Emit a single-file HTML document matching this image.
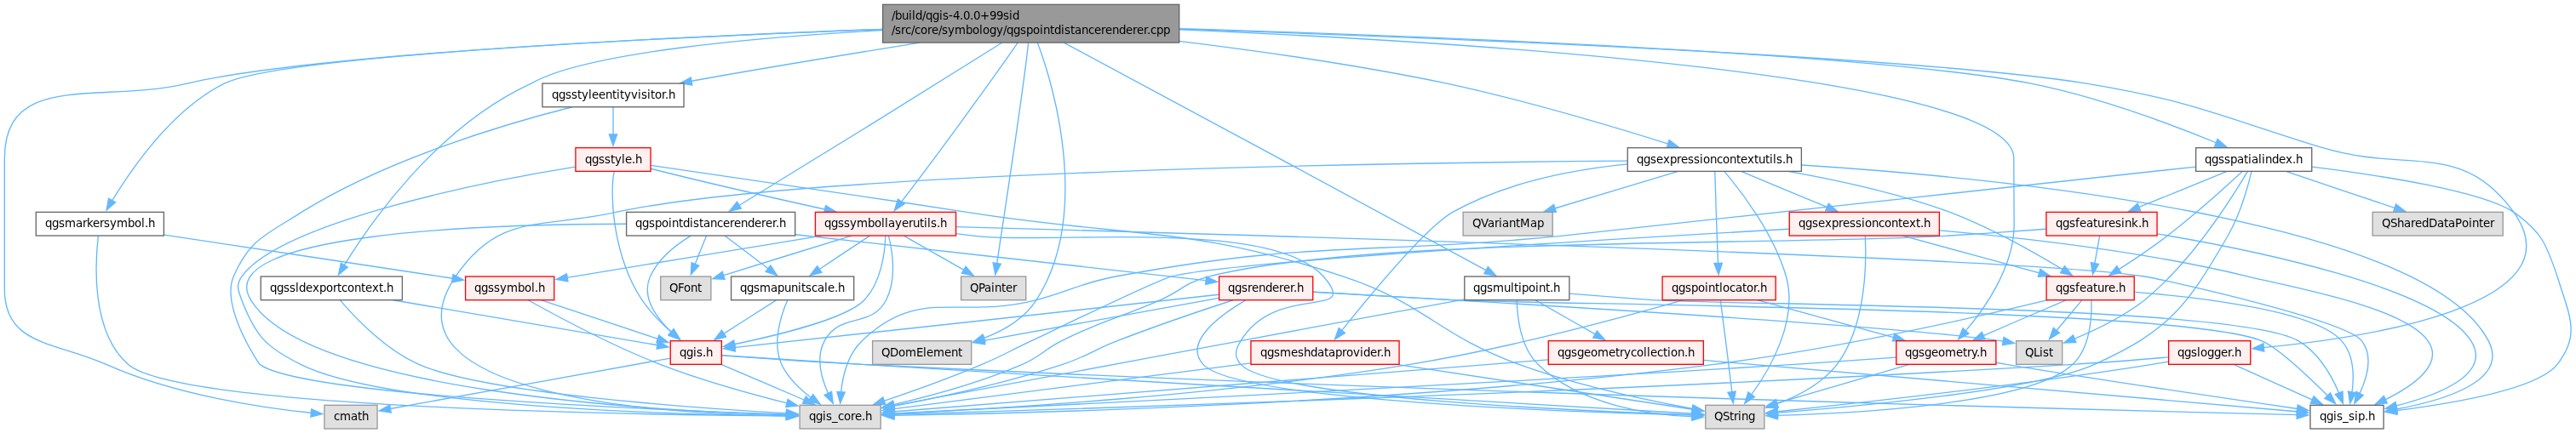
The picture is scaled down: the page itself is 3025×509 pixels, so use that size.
<!DOCTYPE html>
<html><head><meta charset="utf-8"><title>qgspointdistancerenderer.cpp include graph</title>
<style>
html,body{margin:0;padding:0;background:#fff;overflow:hidden;}
svg{display:block;will-change:transform;}
.e path{fill:none;stroke:#63b8ff;stroke-width:1.333;}
.e polygon{fill:#63b8ff;stroke:#63b8ff;stroke-width:1.333;}
rect{stroke-width:1.333;}
rect.root{fill:#999999;stroke:#666666;}
rect.red{fill:#fff0f0;stroke:#ff0000;}
rect.grey{fill:#e0e0e0;stroke:#999999;}
rect.wh{fill:#ffffff;stroke:#666666;}

text{font-family:"DejaVu Sans","Liberation Sans",sans-serif;font-size:13.333px;fill:#000;text-anchor:start;font-kerning:none;}
</style></head>
<body>
<svg width="3025" height="509" viewBox="0 0 3025 509">
<rect x="0" y="0" width="3025" height="509" fill="#ffffff" stroke="none"/>
<g class="e">
<path d="M1176.56,50.23 C1106.39,94.74 938.04,199.10 866.66,242.22"/>
<polygon points="870.42,245.20 856.62,248.21 865.52,237.25"/>
<path d="M1036.40,34.33 C796.48,43.20 370.50,63.05 219.73,98.08 119.49,122.23 5.33,82.63 5.33,186.50 5.33,186.50 5.33,186.50 5.33,339.97 5.33,406.34 64.60,401.49 124.80,428.34 206.01,464.65 309.62,479.56 367.38,485.52"/>
<polygon points="365.76,480.74 378.61,486.61 364.90,490.04"/>
<path d="M1218.33,50.17 C1239.38,104.87 1280.29,254.56 1217.03,352.69 1202.89,374.95 1178.16,389.15 1153.68,398.16"/>
<polygon points="1157.05,401.91 1142.93,401.74 1154.08,393.06"/>
<path d="M1384.77,48.32 C1479.43,59.96 1596.23,76.67 1699.14,98.08 1792.60,118.31 1898.74,150.19 1960.57,169.59"/>
<polygon points="1960.11,164.58 1971.44,173.03 1957.31,173.47"/>
<path d="M1384.89,34.94 C1709.12,48.69 2366.60,88.06 2364.80,186.50 2364.80,186.50 2364.80,186.50 2365.17,264.32 2365.12,313.73 2330.63,362.99 2307.13,390.42"/>
<polygon points="2311.94,392.15 2299.56,398.96 2304.99,385.91"/>
<path d="M1384.98,34.20 C1677.77,43.98 2250.35,66.28 2449.97,98.08 2577.09,119.11 2606.20,136.45 2727.52,173.73 2827.73,204.00 2890.59,164.40 2951.85,249.38 3030.40,359.20 2778.74,396.96 2656.51,408.70"/>
<polygon points="2658.79,413.15 2645.09,409.75 2657.92,403.86"/>
<path d="M1036.33,34.48 C783.53,43.91 331.02,64.83 263.47,98.08 201.22,129.72 153.71,199.85 130.95,237.20"/>
<polygon points="135.71,237.83 125.06,247.11 127.61,233.21"/>
<path d="M1249.27,50.08 C1356.83,106.99 1645.73,264.22 1746.77,318.64"/>
<polygon points="1747.27,313.56 1756.79,324.00 1742.84,321.77"/>
<path d="M1036.33,35.57 C888.17,43.89 687.10,61.53 623.84,98.08 512.55,149.02 434.14,262.93 403.47,313.18"/>
<polygon points="408.37,314.09 397.49,323.10 400.38,309.27"/>
<path d="M1384.91,33.56 C1665.30,42.12 2198.66,62.45 2384.82,98.08 2465.04,114.03 2553.72,147.73 2604.34,168.50"/>
<polygon points="2604.11,163.46 2614.69,172.84 2600.58,172.10"/>
<path d="M1080.37,50.10 C992.01,64.45 878.72,83.15 808.83,95.88"/>
<polygon points="812.79,100.20 798.89,97.70 811.32,90.98"/>
<path d="M1195.21,50.23 C1165.57,93.45 1092.65,193.17 1057.68,238.32"/>
<polygon points="1062.01,239.66 1050.34,247.62 1054.49,234.12"/>
<path d="M1207.59,50.33 C1202.13,104.99 1179.29,251.03 1170.46,311.41"/>
<polygon points="1175.35,310.27 1168.80,322.78 1166.12,308.91"/>
<path d="M811.16,277.11 C794.40,287.43 773.12,303.84 763.53,325.03 752.72,349.22 771.16,374.05 789.27,391.23"/>
<polygon points="791.06,386.76 798.03,399.03 784.93,393.78"/>
<path d="M735.37,263.24 C568.52,263.53 246.48,274.42 294.53,352.69 359.78,460.25 768.28,482.95 925.23,487.79"/>
<polygon points="923.42,483.09 936.63,488.12 923.16,492.42"/>
<path d="M851.02,277.08 C865.37,287.92 886.55,303.91 903.43,316.70"/>
<polygon points="904.79,311.90 912.62,323.67 899.17,319.35"/>
<path d="M933.88,275.75 C1066.50,290.66 1302.10,316.76 1417.97,329.83"/>
<polygon points="1416.69,325.05 1429.42,331.16 1415.66,334.32"/>
<path d="M829.58,277.08 C825.74,286.71 820.28,300.42 815.51,312.33"/>
<polygon points="820.75,312.20 811.36,322.75 812.12,308.65"/>
<path d="M787.13,421.05 C717.00,433.81 540.58,465.61 456.85,480.72"/>
<polygon points="459.33,485.10 445.37,482.86 457.67,475.92"/>
<path d="M846.74,428.44 C874.63,440.26 915.90,457.88 946.36,471.00"/>
<polygon points="946.30,465.89 956.68,475.48 942.59,474.46"/>
<path d="M847.58,417.88 C886.07,420.70 954.00,425.44 1012.26,428.34 1675.87,461.61 2480.77,482.28 2699.15,487.68"/>
<polygon points="2697.35,482.98 2710.57,487.96 2697.13,492.32"/>
<path d="M847.59,417.65 C886.10,420.23 954.04,424.74 1012.26,428.34 1389.35,451.77 1842.61,477.60 1988.92,486.21"/>
<polygon points="1987.34,481.49 2000.38,486.90 1986.80,490.80"/>
<path d="M911.47,352.82 C894.31,363.86 868.78,380.23 848.56,393.17"/>
<polygon points="852.65,396.07 838.91,399.39 847.58,388.23"/>
<path d="M924.68,352.98 C917.12,370.61 906.37,403.36 917.74,428.34 925.53,444.66 940.06,458.34 953.72,468.51"/>
<polygon points="954.81,463.57 963.09,475.01 949.47,471.23"/>
<path d="M1431.33,346.23 C1301.48,360.65 979.40,395.81 861.05,408.65"/>
<polygon points="863.51,413.06 849.75,409.87 862.50,403.79"/>
<path d="M1448.05,352.75 C1412.57,364.38 1358.24,382.67 1312.00,400.68 1283.10,411.87 1277.44,418.67 1247.87,428.34 1180.92,450.30 1101.79,467.35 1047.91,477.67"/>
<polygon points="1050.47,482.00 1036.50,479.90 1048.73,472.83"/>
<path d="M1541.88,343.24 C1586.69,345.86 1651.37,349.59 1707.94,352.69 1813.08,358.30 2558.96,360.68 2655.69,400.68 2673.65,407.90 2710.87,442.84 2734.59,466.45"/>
<polygon points="2736.55,461.79 2742.57,474.57 2729.89,468.33"/>
<path d="M1462.86,352.89 C1433.31,370.15 1388.83,402.16 1412.92,428.34 1451.03,470.87 1849.42,484.50 1988.94,488.01"/>
<polygon points="1987.05,483.31 2000.26,488.30 1986.82,492.65"/>
<path d="M1431.32,350.34 C1359.39,363.45 1233.63,386.23 1154.08,400.55"/>
<polygon points="1156.74,404.78 1142.79,402.56 1155.08,395.60"/>
<path d="M1541.96,343.12 C1714.94,353.01 2233.15,382.74 2354.96,401.38"/>
<polygon points="2353.02,396.43 2365.37,403.29 2351.43,405.63"/>
<path d="M1911.25,189.15 C1647.88,191.19 950.84,201.10 723.54,249.38 636.35,269.07 586.55,249.11 534.94,325.03 439.35,466.22 781.83,486.63 925.72,489.04"/>
<polygon points="923.62,484.35 936.89,489.19 923.50,493.68"/>
<path d="M2115.63,193.96 C2336.00,208.16 2846.95,256.36 2922.17,400.68 2946.95,447.86 2869.80,470.76 2812.63,481.25"/>
<polygon points="2815.34,485.61 2801.41,483.23 2813.78,476.40"/>
<path d="M2025.00,201.59 C2044.45,224.39 2083.17,274.89 2097.45,325.03 2111.77,376.47 2078.85,433.79 2055.87,465.11"/>
<polygon points="2060.41,466.48 2048.74,474.44 2052.90,460.94"/>
<path d="M2044.45,201.49 C2073.06,213.37 2115.76,231.09 2147.35,244.23"/>
<polygon points="2147.27,239.13 2157.80,248.56 2143.69,247.76"/>
<path d="M2099.50,201.41 C2154.68,211.15 2227.45,226.75 2289.63,249.38 2338.44,267.93 2390.99,297.93 2423.38,317.55"/>
<polygon points="2424.46,312.73 2433.38,323.69 2419.58,320.69"/>
<path d="M1911.20,192.93 C1848.44,199.28 1768.39,214.34 1705.82,249.38 1674.02,267.76 1607.23,349.13 1574.62,389.81"/>
<polygon points="1579.45,391.46 1567.46,398.94 1572.18,385.61"/>
<path d="M2013.80,201.70 C2014.48,225.97 2016.20,279.32 2017.61,311.10"/>
<polygon points="2022.32,309.26 2018.14,322.75 2013.00,309.59"/>
<path d="M1970.80,201.40 C1929.97,213.66 1868.20,232.21 1824.01,245.49"/>
<polygon points="1827.39,249.35 1813.28,248.73 1824.69,240.41"/>
<path d="M2100.92,269.28 C1904.35,280.45 1444.48,307.47 1375.42,325.03 1355.93,330.19 1229.45,392.18 1211.26,400.68 1185.27,412.69 1179.55,417.35 1153.11,428.34 1114.72,444.53 1070.03,460.51 1036.35,471.95"/>
<polygon points="1039.86,475.70 1025.74,475.58 1036.86,466.86"/>
<path d="M2277.73,270.87 C2369.20,278.92 2515.56,295.05 2640.09,325.03 2688.59,337.10 2822.78,360.20 2851.03,400.68 2870.77,428.28 2833.31,454.04 2799.79,470.44"/>
<polygon points="2803.31,473.91 2789.26,475.36 2799.34,465.46"/>
<path d="M2190.33,277.24 C2191.74,306.58 2192.19,382.03 2157.20,428.34 2139.34,451.34 2110.19,466.25 2084.98,475.48"/>
<polygon points="2088.07,479.44 2073.93,479.37 2085.02,470.62"/>
<path d="M2234.42,277.08 C2279.03,289.29 2347.68,308.07 2396.63,321.41"/>
<polygon points="2395.88,316.36 2407.51,324.38 2393.42,325.37"/>
<path d="M2404.87,352.72 C2323.26,372.25 2156.64,409.97 2012.70,428.34 1649.79,474.94 1209.75,485.90 1048.38,488.36"/>
<polygon points="1049.98,493.01 1036.59,488.53 1049.84,483.67"/>
<path d="M2506.40,343.31 C2582.38,349.43 2718.73,364.90 2749.68,400.68 2764.54,417.32 2764.55,443.31 2761.76,462.73"/>
<polygon points="2766.62,461.67 2759.68,473.97 2757.44,460.02"/>
<path d="M2455.94,352.72 C2456.55,371.89 2454.85,408.71 2433.95,428.34 2385.57,474.85 2180.84,485.81 2085.50,488.31"/>
<polygon points="2087.53,492.95 2074.09,488.59 2087.32,483.61"/>
<path d="M2444.74,352.82 C2436.33,362.92 2424.20,377.46 2413.95,389.79"/>
<polygon points="2418.52,391.17 2406.53,398.65 2411.25,385.33"/>
<path d="M2425.99,352.82 C2398.65,364.46 2357.69,382.04 2327.47,395.27"/>
<polygon points="2331.07,398.84 2316.98,399.83 2327.38,390.26"/>
<path d="M2226.49,420.06 C2191.68,422.64 2146.80,425.85 2106.89,428.34 1703.62,453.68 1218.13,477.60 1047.89,486.02"/>
<polygon points="1049.87,490.62 1036.32,486.60 1049.42,481.29"/>
<path d="M2344.08,426.22 C2348.11,426.96 2352.12,427.67 2356.00,428.34 2477.69,448.49 2621.97,469.48 2699.65,480.74"/>
<polygon points="2698.25,475.90 2710.79,482.41 2696.93,485.15"/>
<path d="M2242.21,428.35 C2198.50,441.24 2130.85,461.09 2085.12,474.44"/>
<polygon points="2088.14,478.44 2074.03,477.76 2085.48,469.49"/>
<path d="M1468.67,426.84 C1351.49,441.77 1149.74,467.70 1047.73,480.87"/>
<polygon points="1050.20,485.29 1036.37,482.37 1049.00,476.03"/>
<path d="M1640.32,428.35 C1741.79,443.73 1908.50,468.98 1989.53,481.52"/>
<polygon points="1988.14,476.68 2000.63,483.30 1986.76,485.91"/>
<path d="M1976.99,352.69 C1909.76,371.91 1773.44,408.89 1655.84,428.34 1434.43,464.95 1167.78,480.74 1048.16,486.44"/>
<polygon points="1049.94,491.05 1036.40,486.99 1049.51,481.73"/>
<path d="M2020.39,353.06 C2023.39,377.24 2030.36,430.42 2034.08,462.52"/>
<polygon points="2038.16,460.06 2035.33,473.91 2028.91,461.33"/>
<path d="M2063.53,352.73 C2107.85,364.91 2176.20,383.64 2225.50,397.08"/>
<polygon points="2224.85,392.05 2236.48,400.07 2222.38,401.04"/>
<path d="M2546.36,419.87 C2514.50,422.61 2471.75,426.05 2433.95,428.34 1898.55,460.81 1249.08,481.24 1047.87,487.26"/>
<polygon points="1049.93,491.88 1036.47,487.60 1049.66,482.54"/>
<path d="M2622.94,428.44 C2649.06,440.16 2687.87,457.57 2716.77,470.65"/>
<polygon points="2717.10,465.67 2727.29,475.45 2713.22,474.16"/>
<path d="M2546.59,425.10 C2540.18,426.25 2533.67,427.37 2527.48,428.34 2367.24,453.59 2174.83,474.60 2085.76,484.00"/>
<polygon points="2087.97,488.50 2074.23,485.22 2087.02,479.22"/>
<path d="M115.33,277.37 C111.85,308.34 106.42,389.51 150.40,428.34 208.15,479.53 742.49,487.63 925.56,488.84"/>
<polygon points="923.45,484.17 936.75,488.92 923.40,493.51"/>
<path d="M192.89,276.15 C287.47,290.29 445.14,314.05 533.33,327.49"/>
<polygon points="532.04,322.66 544.52,329.26 530.64,331.89"/>
<path d="M635.80,352.82 C674.34,365.58 733.98,385.46 774.16,398.95"/>
<polygon points="773.80,393.96 784.98,402.60 770.85,402.81"/>
<path d="M620.08,352.72 C653.09,371.09 717.80,405.89 775.16,428.34 824.71,447.46 883.05,463.55 925.90,474.29"/>
<polygon points="925.04,469.32 936.86,477.05 922.80,478.38"/>
<path d="M1719.77,351.85 C1653.85,363.98 1547.83,383.62 1457.09,400.68 1310.02,427.89 1137.96,460.18 1047.70,477.06"/>
<polygon points="1050.45,481.35 1036.48,479.24 1048.72,472.18"/>
<path d="M1842.90,345.13 C1872.27,347.53 1907.87,350.36 1939.85,352.69 2024.12,358.61 2626.58,357.79 2698.91,400.68 2722.99,414.62 2738.68,442.94 2747.38,463.69"/>
<polygon points="2751.03,460.21 2751.42,474.34 2742.30,463.54"/>
<path d="M1781.29,352.86 C1781.59,371.89 1785.17,408.11 1806.02,428.34 1855.20,476.23 1937.02,487.84 1988.90,489.82"/>
<polygon points="1987.05,485.12 2000.27,490.09 1986.83,494.45"/>
<path d="M1803.12,352.82 C1822.73,364.07 1852.04,380.84 1874.90,393.91"/>
<polygon points="1875.36,388.87 1884.67,399.50 1870.76,396.99"/>
<path d="M1817.91,422.84 C1795.23,424.64 1770.98,426.56 1748.51,428.34 1489.02,448.95 1178.49,473.49 1047.86,484.01"/>
<polygon points="1050.03,488.54 1036.37,484.94 1049.29,479.24"/>
<path d="M2000.64,423.45 C2176.62,438.57 2555.56,471.30 2699.39,483.98"/>
<polygon points="2697.95,479.21 2710.84,485.01 2697.15,488.51"/>
<path d="M461.65,352.73 C551.04,367.97 700.88,393.46 773.94,406.00"/>
<polygon points="772.65,401.08 785.01,407.90 771.08,410.27"/>
<path d="M399.42,352.94 C416.22,372.76 452.05,410.88 491.73,428.34 568.29,462.10 811.11,479.31 925.60,485.91"/>
<polygon points="923.74,481.18 936.81,486.55 923.24,490.50"/>
<path d="M2578.48,196.05 C2396.11,215.83 1908.73,269.48 1835.52,277.04 1602.86,300.27 1541.12,281.84 1310.14,325.03 1267.83,333.24 1258.70,341.46 1217.03,352.69 1126.34,376.27 1079.63,335.75 1012.26,400.68 995.31,416.61 989.35,442.91 987.40,462.60"/>
<polygon points="992.23,461.01 986.71,474.00 982.92,460.39"/>
<path d="M2714.82,196.15 C2792.41,205.73 2913.96,224.14 2951.85,249.38 2984.65,272.39 2990.13,286.80 3003.09,325.03 3016.43,369.56 3031.37,392.59 3003.01,428.34 2979.46,457.55 2877.44,474.53 2812.43,482.88"/>
<polygon points="2815.03,487.32 2801.23,484.29 2813.91,478.06"/>
<path d="M2644.01,201.44 C2639.84,219.12 2630.76,251.64 2616.28,277.04 2567.56,361.00 2547.25,388.77 2459.46,428.34 2394.30,458.22 2182.37,477.70 2085.39,485.46"/>
<polygon points="2087.71,489.99 2074.05,486.35 2086.99,480.69"/>
<path d="M2639.31,201.59 C2621.51,231.44 2574.55,306.72 2518.48,352.69 2492.88,372.64 2459.86,388.41 2434.30,398.89"/>
<polygon points="2437.85,402.47 2423.74,403.08 2434.40,393.80"/>
<path d="M2632.94,201.68 C2613.89,219.35 2578.01,251.54 2545.41,277.04 2526.52,291.54 2504.35,306.37 2486.64,317.67"/>
<polygon points="2490.75,320.69 2476.97,323.78 2485.81,312.77"/>
<path d="M2615.33,201.49 C2586.22,213.37 2542.44,231.09 2510.21,244.23"/>
<polygon points="2513.74,247.83 2499.64,248.57 2510.20,239.20"/>
<path d="M2684.39,201.49 C2720.01,213.58 2774.20,231.72 2813.56,244.92"/>
<polygon points="2813.64,239.97 2824.76,248.69 2810.64,248.81"/>
<path d="M2402.60,269.22 C2368.83,271.67 2327.04,274.64 2289.63,277.04 2096.40,288.97 1607.32,277.55 1419.30,325.03 1392.28,332.10 1388.07,341.04 1362.58,352.69 1311.65,375.29 1296.39,375.48 1246.79,400.68 1225.33,411.39 1222.55,418.88 1200.49,428.34 1151.14,449.74 1091.86,465.74 1047.94,475.84"/>
<polygon points="1050.60,480.08 1036.57,478.49 1048.53,470.98"/>
<path d="M2533.43,274.86 C2645.07,293.60 2862.09,337.69 2901.69,400.68 2926.72,440.08 2863.23,464.55 2812.35,477.40"/>
<polygon points="2815.25,481.62 2801.19,480.20 2813.06,472.54"/>
<path d="M2465.66,277.08 C2463.98,286.50 2461.57,299.83 2459.44,311.55"/>
<polygon points="2464.54,310.40 2457.46,322.63 2455.38,308.65"/>
<path d="M671.85,125.76 C595.54,145.05 454.06,186.80 354.13,249.38 312.91,276.17 293.34,280.43 274.24,325.03 258.93,361.17 303.94,427.51 305.07,428.34 353.90,464.76 767.47,481.81 925.50,487.17"/>
<polygon points="923.80,482.46 936.98,487.56 923.50,491.79"/>
<path d="M720.00,125.87 C720.00,135.15 720.00,148.17 720.00,159.78"/>
<polygon points="724.67,157.90 720.00,171.24 715.34,157.90"/>
<path d="M721.24,201.49 C715.34,230.46 720.77,303.02 753.96,352.69 763.92,367.41 777.90,381.27 790.18,392.03"/>
<polygon points="791.45,387.17 798.72,399.28 785.48,394.34"/>
<path d="M675.64,196.15 C564.35,213.91 329.24,262.13 283.85,325.03 276.85,334.97 279.56,341.23 283.85,352.69 300.28,395.22 312.21,408.05 353.07,428.34 451.94,477.95 786.61,487.16 925.37,488.75"/>
<polygon points="923.55,484.08 936.84,488.88 923.46,493.41"/>
<path d="M764.19,194.46 C833.05,204.85 995.01,227.51 1135.05,249.38 1333.24,280.84 1388.77,263.07 1577.76,325.03 1675.70,357.66 1687.80,393.67 1783.66,428.34 1853.44,453.61 1937.60,471.18 1989.16,480.73"/>
<polygon points="1988.10,475.92 2000.42,482.84 1986.48,485.11"/>
<path d="M764.06,198.23 C812.52,210.52 904.80,231.96 970.48,246.48"/>
<polygon points="969.55,241.53 981.59,248.93 967.57,250.65"/>
<path d="M1039.86,277.25 C1039.21,295.98 1035.11,331.56 1014.99,352.69 993.63,374.48 912.60,394.25 860.93,404.99"/>
<polygon points="863.60,409.19 849.59,407.29 861.72,400.04"/>
<path d="M1043.46,277.18 C1047.91,294.88 1053.39,328.01 1040.60,352.69 1022.68,386.73 986.43,366.64 968.22,400.68 957.51,420.41 964.83,445.78 973.22,464.18"/>
<polygon points="976.53,460.27 978.28,474.30 968.17,464.42"/>
<path d="M1122.68,266.60 C1415.83,274.78 2381.43,302.47 2518.48,325.03 2547.58,330.00 2756.02,377.06 2773.43,400.68 2787.29,418.95 2779.36,445.23 2770.14,464.31"/>
<polygon points="2775.16,464.66 2764.83,474.31 2766.88,460.33"/>
<path d="M1122.60,274.62 C1129.39,275.44 1136.14,276.25 1142.66,277.04 1235.17,287.82 1493.22,255.81 1554.10,325.03 1599.55,376.55 1498.43,331.57 1457.09,400.68 1450.50,411.11 1448.75,419.21 1457.09,428.34 1491.75,467.76 1856.85,483.21 1989.25,487.64"/>
<polygon points="1987.47,482.93 2000.65,488.01 1987.18,492.26"/>
<path d="M1021.39,277.08 C1004.80,288.12 980.14,304.53 960.71,317.44"/>
<polygon points="964.86,320.32 951.16,323.78 959.72,312.53"/>
<path d="M1000.06,277.08 C957.60,290.20 890.68,310.89 847.44,324.27"/>
<polygon points="851.04,328.31 836.92,327.77 848.29,319.38"/>
<path d="M965.00,277.08 C880.92,290.95 744.70,313.27 664.37,326.55"/>
<polygon points="666.96,330.94 653.05,328.49 665.46,321.72"/>
<path d="M1061.33,277.08 C1080.99,288.33 1110.40,305.15 1133.20,318.16"/>
<polygon points="1134.06,313.19 1143.28,323.89 1129.40,321.27"/>
</g>
<g class="n">
<rect class="root" x="1036.61" y="5.33" width="348.12" height="44.75"/>
<rect class="wh" x="636.94" y="98.08" width="166.12" height="27.66"/>
<rect class="red" x="675.94" y="173.73" width="88.12" height="27.66"/>
<rect class="wh" x="1911.27" y="173.73" width="204.12" height="27.66"/>
<rect class="wh" x="2578.61" y="173.73" width="136.12" height="27.66"/>
<rect class="wh" x="42.27" y="249.38" width="150.12" height="27.66"/>
<rect class="wh" x="735.61" y="249.38" width="198.12" height="27.66"/>
<rect class="red" x="957.44" y="249.38" width="165.12" height="27.66"/>
<rect class="grey" x="1718.11" y="249.38" width="105.12" height="27.66"/>
<rect class="red" x="2101.27" y="249.38" width="176.12" height="27.66"/>
<rect class="red" x="2402.94" y="249.38" width="130.12" height="27.66"/>
<rect class="grey" x="2786.11" y="249.38" width="153.12" height="27.66"/>
<rect class="wh" x="306.27" y="325.03" width="166.12" height="27.66"/>
<rect class="red" x="546.61" y="325.03" width="104.12" height="27.66"/>
<rect class="grey" x="775.77" y="325.03" width="59.12" height="27.66"/>
<rect class="wh" x="858.61" y="325.03" width="144.12" height="27.66"/>
<rect class="grey" x="1128.61" y="325.03" width="76.12" height="27.66"/>
<rect class="red" x="1431.61" y="325.03" width="110.12" height="27.66"/>
<rect class="wh" x="1719.77" y="325.03" width="123.12" height="27.66"/>
<rect class="red" x="1952.11" y="325.03" width="133.12" height="27.66"/>
<rect class="red" x="2403.11" y="325.03" width="103.12" height="27.66"/>
<rect class="red" x="787.27" y="400.68" width="60.12" height="27.66"/>
<rect class="grey" x="1024.61" y="400.68" width="116.12" height="27.66"/>
<rect class="red" x="1468.94" y="400.68" width="174.12" height="27.66"/>
<rect class="red" x="1818.27" y="400.68" width="182.12" height="27.66"/>
<rect class="red" x="2226.77" y="400.68" width="117.12" height="27.66"/>
<rect class="grey" x="2367.61" y="400.68" width="54.12" height="27.66"/>
<rect class="red" x="2546.61" y="400.68" width="96.12" height="27.66"/>
<rect class="grey" x="380.94" y="476.33" width="62.12" height="27.66"/>
<rect class="grey" x="939.11" y="476.33" width="95.12" height="27.66"/>
<rect class="grey" x="2002.77" y="476.33" width="69.12" height="27.66"/>
<rect class="wh" x="2712.94" y="476.33" width="86.12" height="27.66"/>
</g>
<g class="t">
<text x="1047.0 1051.0 1059.0 1067.0 1071.0 1075.0 1083.0 1087.0 1095.0 1103.0 1107.0 1114.0 1119.0 1127.0 1131.0 1139.0 1143.0 1151.0 1162.0 1170.0 1178.0 1185.0 1189.0" y="23.4">/build/qgis-4.0.0+99sid</text>
<text x="1047.0 1051.0 1058.0 1063.0 1070.0 1074.0 1081.0 1089.0 1094.0 1102.0 1106.0 1113.0 1121.0 1134.0 1142.0 1150.0 1154.0 1162.0 1170.0 1178.0 1182.0 1190.0 1198.0 1205.0 1213.0 1221.0 1225.0 1233.0 1238.0 1246.0 1250.0 1257.0 1262.0 1270.0 1278.0 1285.0 1293.0 1298.0 1306.0 1314.0 1322.0 1330.0 1335.0 1343.0 1347.0 1351.0 1358.0 1366.0" y="40.4">/src/core/symbology/qgspointdistancerenderer.cpp</text>
<text x="648.0 656.0 664.0 671.0 678.0 683.0 691.0 695.0 703.0 711.0 719.0 724.0 728.0 733.0 741.0 749.0 753.0 760.0 764.0 769.0 777.0 781.0 785.0" y="116.0">qgsstyleentityvisitor.h</text>
<text x="687.0 695.0 703.0 710.0 717.0 722.0 730.0 734.0 742.0 746.0" y="191.9">qgsstyle.h</text>
<text x="1922.0 1930.0 1938.0 1945.0 1953.0 1961.0 1969.0 1974.0 1982.0 1989.0 1996.0 2000.0 2008.0 2016.0 2023.0 2031.0 2039.0 2044.0 2052.0 2060.0 2065.0 2073.0 2078.0 2082.0 2086.0 2093.0 2097.0" y="191.9">qgsexpressioncontextutils.h</text>
<text x="2589.0 2597.0 2605.0 2612.0 2619.0 2627.0 2635.0 2640.0 2644.0 2652.0 2656.0 2660.0 2668.0 2676.0 2684.0 2692.0 2696.0" y="191.9">qgsspatialindex.h</text>
<text x="53.0 61.0 69.0 76.0 89.0 97.0 102.0 109.0 117.0 122.0 129.0 137.0 150.0 158.0 166.0 170.0 174.0" y="266.9">qgsmarkersymbol.h</text>
<text x="746.0 754.0 762.0 769.0 777.0 785.0 789.0 797.0 802.0 810.0 814.0 821.0 826.0 834.0 842.0 849.0 857.0 862.0 870.0 878.0 886.0 894.0 899.0 907.0 911.0 915.0" y="266.9">qgspointdistancerenderer.h</text>
<text x="968.0 976.0 984.0 991.0 998.0 1006.0 1019.0 1027.0 1035.0 1039.0 1043.0 1051.0 1059.0 1067.0 1072.0 1080.0 1085.0 1089.0 1093.0 1100.0 1104.0" y="266.9">qgssymbollayerutils.h</text>
<text x="1729.0 1739.0 1747.0 1755.0 1760.0 1764.0 1772.0 1780.0 1785.0 1797.0 1805.0" y="266.9">QVariantMap</text>
<text x="2112.0 2120.0 2128.0 2135.0 2143.0 2151.0 2159.0 2164.0 2172.0 2179.0 2186.0 2190.0 2198.0 2206.0 2213.0 2221.0 2229.0 2234.0 2242.0 2250.0 2255.0 2259.0" y="266.9">qgsexpressioncontext.h</text>
<text x="2414.0 2422.0 2430.0 2437.0 2442.0 2450.0 2458.0 2463.0 2471.0 2476.0 2484.0 2491.0 2495.0 2503.0 2511.0 2515.0" y="266.9">qgsfeaturesink.h</text>
<text x="2797.0 2807.0 2815.0 2823.0 2831.0 2836.0 2844.0 2852.0 2862.0 2870.0 2875.0 2883.0 2891.0 2899.0 2903.0 2911.0 2916.0 2924.0" y="266.9">QSharedDataPointer</text>
<text x="317.0 325.0 333.0 340.0 347.0 351.0 359.0 367.0 375.0 383.0 391.0 396.0 401.0 408.0 416.0 424.0 429.0 437.0 445.0 450.0 454.0" y="342.9">qgssldexportcontext.h</text>
<text x="557.0 565.0 573.0 580.0 587.0 595.0 608.0 616.0 624.0 628.0 632.0" y="342.9">qgssymbol.h</text>
<text x="786.0 796.0 803.0 811.0 819.0" y="342.9">QFont</text>
<text x="869.0 877.0 885.0 892.0 905.0 913.0 921.0 929.0 937.0 941.0 946.0 953.0 960.0 968.0 972.0 980.0 984.0" y="342.9">qgsmapunitscale.h</text>
<text x="1139.0 1149.0 1156.0 1164.0 1168.0 1176.0 1181.0 1189.0" y="342.9">QPainter</text>
<text x="1442.0 1450.0 1458.0 1465.0 1470.0 1478.0 1486.0 1494.0 1502.0 1507.0 1515.0 1519.0 1523.0" y="342.9">qgsrenderer.h</text>
<text x="1730.0 1738.0 1746.0 1753.0 1766.0 1774.0 1778.0 1783.0 1787.0 1795.0 1803.0 1807.0 1815.0 1820.0 1824.0" y="342.9">qgsmultipoint.h</text>
<text x="1963.0 1971.0 1979.0 1986.0 1994.0 2002.0 2006.0 2014.0 2019.0 2023.0 2031.0 2038.0 2046.0 2051.0 2059.0 2063.0 2067.0" y="342.9">qgspointlocator.h</text>
<text x="2414.0 2422.0 2430.0 2437.0 2442.0 2450.0 2458.0 2463.0 2471.0 2476.0 2484.0 2488.0" y="342.9">qgsfeature.h</text>
<text x="798.0 806.0 814.0 818.0 825.0 829.0" y="418.9">qgis.h</text>
<text x="1035.0 1045.0 1055.0 1063.0 1076.0 1084.0 1088.0 1096.0 1109.0 1117.0 1125.0" y="418.9">QDomElement</text>
<text x="1480.0 1488.0 1496.0 1503.0 1516.0 1524.0 1531.0 1539.0 1547.0 1555.0 1560.0 1568.0 1576.0 1581.0 1589.0 1597.0 1601.0 1609.0 1617.0 1621.0 1625.0" y="418.9">qgsmeshdataprovider.h</text>
<text x="1829.0 1837.0 1845.0 1852.0 1860.0 1868.0 1876.0 1889.0 1897.0 1902.0 1907.0 1915.0 1922.0 1930.0 1934.0 1938.0 1946.0 1953.0 1958.0 1962.0 1970.0 1978.0 1982.0" y="418.9">qgsgeometrycollection.h</text>
<text x="2237.0 2245.0 2253.0 2260.0 2268.0 2276.0 2284.0 2297.0 2305.0 2310.0 2315.0 2321.0 2325.0" y="418.9">qgsgeometry.h</text>
<text x="2378.0 2388.0 2395.0 2399.0 2406.0" y="418.9">QList</text>
<text x="2557.0 2565.0 2573.0 2580.0 2584.0 2592.0 2600.0 2608.0 2616.0 2620.0 2624.0" y="418.9">qgslogger.h</text>
<text x="392.0 399.0 412.0 420.0 425.0" y="493.9">cmath</text>
<text x="950.0 958.0 966.0 970.0 977.0 984.0 991.0 999.0 1004.0 1012.0 1016.0" y="493.9">qgis_core.h</text>
<text x="2013.0 2023.0 2031.0 2036.0 2041.0 2045.0 2053.0" y="493.9">QString</text>
<text x="2724.0 2732.0 2740.0 2744.0 2751.0 2758.0 2765.0 2769.0 2777.0 2781.0" y="493.9">qgis_sip.h</text>
</g>
</svg>
</body></html>
